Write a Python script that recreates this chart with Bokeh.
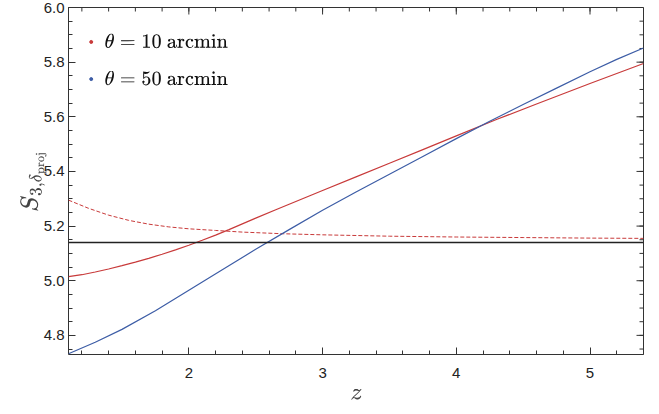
from bokeh.plotting import figure
from bokeh.models import Range1d, Span, FixedTicker, Label, CustomJSTickFormatter
from bokeh.embed import file_html
from bokeh.resources import INLINE

z_red = [1.1, 1.2, 1.3, 1.4, 1.5, 1.6, 1.7, 1.8, 1.9, 2.0, 2.1, 2.2, 2.3, 2.4, 2.5,
         2.65, 2.8, 3.0, 3.25, 3.5, 3.75, 4.0, 4.3, 4.6, 5.0, 5.4]
s3_10 = [5.015, 5.022, 5.032, 5.043, 5.055, 5.068, 5.082, 5.097, 5.113, 5.13, 5.148,
         5.167, 5.187, 5.208, 5.229, 5.26, 5.29, 5.33, 5.38, 5.43, 5.48, 5.53, 5.59,
         5.647, 5.722, 5.795]
z_blue = [1.1, 1.3, 1.5, 1.75, 2.0, 2.25, 2.5, 2.75, 3.0, 3.25, 3.5, 3.75, 4.0, 4.25,
          4.5, 4.75, 5.0, 5.2, 5.4]
s3_50 = [4.733, 4.775, 4.822, 4.89, 4.965, 5.04, 5.115, 5.187, 5.258, 5.325, 5.39,
         5.455, 5.52, 5.584, 5.645, 5.705, 5.765, 5.81, 5.852]
z_dash = [1.1, 1.25, 1.4, 1.55, 1.7, 1.85, 2.0, 2.2, 2.4, 2.7, 3.0, 3.5, 4.0, 4.5, 5.0, 5.4]
s3_10_dashed = [5.295, 5.265, 5.24, 5.221, 5.207, 5.197, 5.19, 5.184, 5.178, 5.172,
                5.168, 5.163, 5.16, 5.158, 5.156, 5.155]
s3_ref = 5.14
legend_labels = [r"$$\theta = 10\ \mathrm{arcmin}$$", r"$$\theta = 50\ \mathrm{arcmin}$$"]
x_ticks = [2, 3, 4, 5]
y_ticks = [4.8, 5.0, 5.2, 5.4, 5.6, 5.8, 6.0]
x_minor = [round(1.2 + 0.2 * i, 2) for i in range(22)]
y_minor = [round(4.75 + 0.05 * i, 2) for i in range(26)]

RED = "#C83A3A"
BLUE = "#3D5DA6"
FRAME = "#333333"

X0, X1 = 1.1, 5.4
Y0, Y1 = 4.73, 6.0
W, H = 659, 414
BL, BR, BT, BB = 68, 16, 7, 60

p = figure(width=W, height=H, output_backend="svg", toolbar_location=None,
           x_range=Range1d(X0, X1), y_range=Range1d(Y0, Y1),
           min_border_left=BL, min_border_right=BR, min_border_top=BT, min_border_bottom=BB)
p.grid.visible = False
p.outline_line_color = FRAME
p.outline_line_width = 1

MAJ, MNR = 7, 4
for ax in (p.xaxis[0], p.yaxis[0]):
    ax.axis_line_color = None
    ax.major_tick_line_color = FRAME
    ax.minor_tick_line_color = FRAME
    ax.major_tick_in = MAJ
    ax.major_tick_out = 0
    ax.minor_tick_in = MNR
    ax.minor_tick_out = 0
    ax.major_tick_line_width = 1
    ax.minor_tick_line_width = 1
    ax.major_label_text_font = "Liberation Sans"
    ax.major_label_text_font_size = "15px"
    ax.major_label_text_color = "#222222"

p.xaxis.ticker = FixedTicker(ticks=x_ticks, minor_ticks=x_minor)
p.yaxis.ticker = FixedTicker(ticks=y_ticks, minor_ticks=y_minor)
p.yaxis.formatter = CustomJSTickFormatter(code="return tick.toFixed(1);")
p.xaxis.major_label_standoff = 13
p.yaxis.major_label_standoff = 4

p.xaxis.axis_label = r"$$z$$"
p.xaxis.axis_label_text_font_size = "20px"
p.xaxis.axis_label_standoff = 8

p.yaxis.axis_label = r"$$S_{3,\delta_{\rm proj}}$$"
p.yaxis.axis_label_text_font_size = "20px"
p.yaxis.axis_label_standoff = -6

# inward frame ticks on top and right edges
fw = W - BL - BR
fh = H - BT - BB
dx = (X1 - X0) / fw
dy = (Y1 - Y0) / fh
xt = x_ticks + x_minor
xl = [MAJ] * len(x_ticks) + [MNR] * len(x_minor)
yt = y_ticks + y_minor
yl = [MAJ] * len(y_ticks) + [MNR] * len(y_minor)
tick_style = dict(line_color=FRAME, line_width=1)
p.segment(x0=xt, y0=[Y1] * len(xt), x1=xt, y1=[Y1 - l * dy for l in xl], **tick_style)
p.segment(x0=[X1] * len(yt), y0=yt, x1=[X1 - l * dx for l in yl], y1=yt, **tick_style)

p.add_layout(Span(location=s3_ref, dimension="width", line_color="#222222", line_width=1.6))
p.line(z_dash, s3_10_dashed, line_color=RED, line_width=1, line_dash="4 2")
p.line(z_red, s3_10, line_color=RED, line_width=1.2)
p.line(z_blue, s3_50, line_color=BLUE, line_width=1.2)

# legend
leg_y = [5.874, 5.738]
p.scatter([1.27, 1.27], leg_y, size=3, color=[RED, BLUE])
for yv, lab in zip(leg_y, legend_labels):
    p.add_layout(Label(x=1.37, y=yv, text=lab, text_font_size="15.6px",
                       text_baseline="middle", text_color="#111111"))

open("out.html", "w").write(file_html(p, INLINE))
